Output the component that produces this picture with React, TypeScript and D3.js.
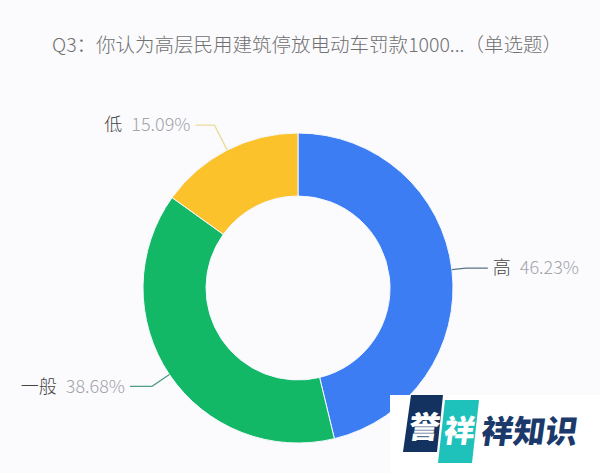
import React from "react";
import * as d3 from "d3";

const categories = ["高", "一般", "低"];
const values = [46.23, 38.68, 15.09];
const colors = ["#3c7df3", "#12b866", "#fcc22b"];
const lineColors = ["#5a7482", "#4f9c84", "#eadb9c"];
const titleText = "Q3：你认为高层民用建筑停放电动车罚款1000...（单选题）";

// label line layout: radial extension and horizontal length per slice
const lineLen = [14, 21, 28];
const lineLen2 = [22, 22, 19];

const W = 600;
const H = 473;
const cx = 298;
const cy = 288;
const rOuter = 155;
const rInner = 92;

export default function App() {
  const pie = d3
    .pie<number>()
    .sort(null)
    .value((d) => d)
    .startAngle(0)
    .endAngle(Math.PI * 2);
  const arcs = pie(values);
  const arc = d3.arc<d3.PieArcDatum<number>>().innerRadius(rInner).outerRadius(rOuter);

  return (
    <div style={{ position: "fixed", left: 0, top: 0, width: W, height: H }}>
      <svg width={W} height={H} style={{ display: "block" }} fontFamily="'Noto Sans CJK SC', 'Noto Sans', sans-serif">
        <rect x={0} y={0} width={W} height={H} fill="#fbfbfd" />
        <text x={52} y={52} fontSize={19} fontWeight={300} fill="#707070" textLength={510} lengthAdjust="spacingAndGlyphs">
          {titleText}
        </text>
        <g transform={`translate(${cx},${cy})`}>
          {arcs.map((a, i) => (
            <path key={i} d={arc(a) || ""} fill={colors[i]} stroke="#f4f8ff" strokeWidth={1} />
          ))}
          {arcs.map((a, i) => {
            const mid = (a.startAngle + a.endAngle) / 2;
            const sx = Math.sin(mid);
            const sy = -Math.cos(mid);
            const p1 = [sx * rOuter, sy * rOuter];
            const r2 = rOuter + lineLen[i];
            const p2 = [sx * r2, sy * r2];
            const right = sx >= 0;
            const p3 = [p2[0] + (right ? lineLen2[i] : -lineLen2[i]), p2[1]];
            const tx = p3[0] + (right ? 5 : -5);
            const pct = values[i].toFixed(2) + "%";
            return (
              <g key={"l" + i}>
                <polyline
                  points={[p1, p2, p3].map((p) => p.join(",")).join(" ")}
                  fill="none"
                  stroke={lineColors[i]}
                  strokeWidth={1.3}
                />
                <text
                  x={tx}
                  y={p3[1]}
                  dy="0.35em"
                  fontSize={18}
                  fontWeight={300}
                  textAnchor={right ? "start" : "end"}
                >
                  <tspan fill="#444">{categories[i]}</tspan>
                  <tspan fill="#a4a4aa" dx={9}>{pct}</tspan>
                </text>
              </g>
            );
          })}
        </g>
        {/* watermark */}
        <rect x={390} y={395} width={210} height={78} fill="#ffffff" />
        <polygon points="411,395 443,395 437,452 403,452" fill="#13325f" />
        <polygon points="445,400 479,400 472,463 438,463" fill="#1fc1bb" />
        <g transform="translate(423,438) skewX(-8)">
          <text x={0} y={0} fontSize={31} fontWeight={900} fill="#ffffff" textAnchor="middle">誉</text>
        </g>
        <g transform="translate(458,442) skewX(-8)">
          <text x={0} y={0} fontSize={31} fontWeight={900} fill="#ffffff" textAnchor="middle">祥</text>
        </g>
        <g transform="translate(480,443) skewX(-8)">
          <text x={0} y={0} fontSize={32} fontWeight={900} fill="#1b3a6b" textLength={96} lengthAdjust="spacingAndGlyphs">祥知识</text>
        </g>
      </svg>
    </div>
  );
}
